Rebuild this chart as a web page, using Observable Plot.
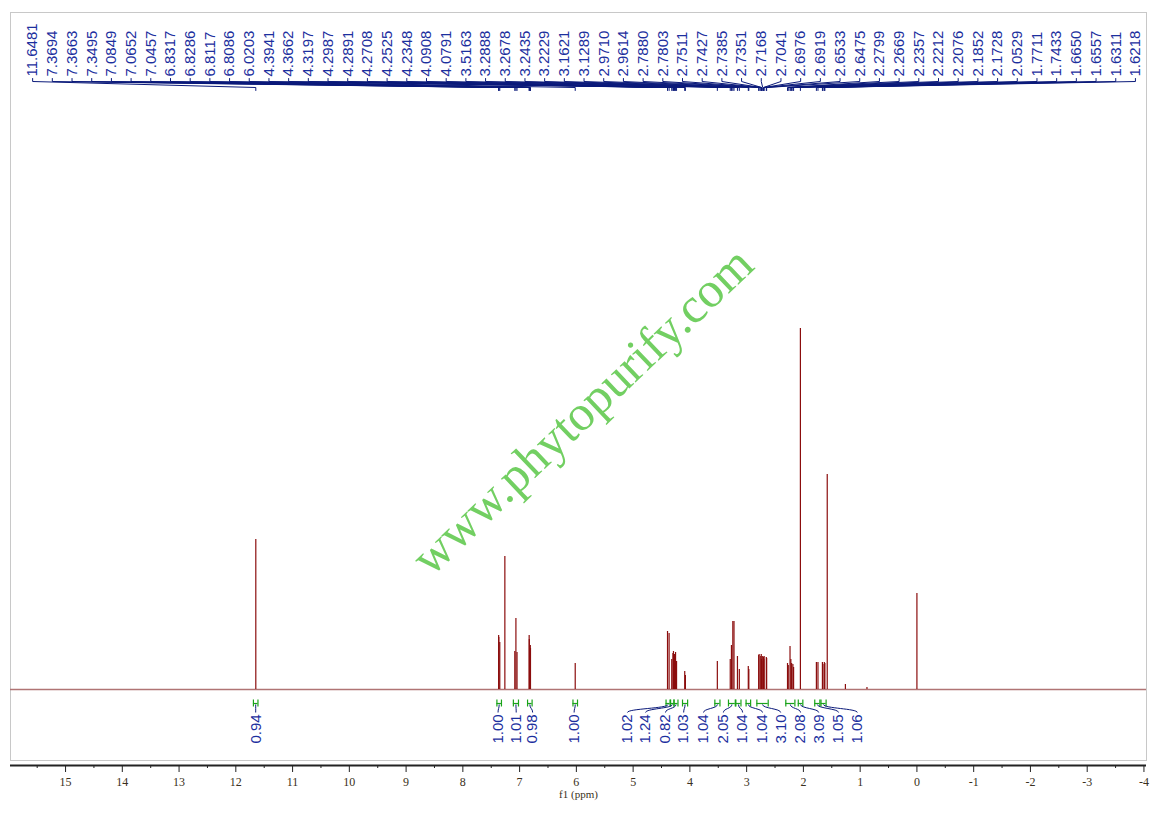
<!DOCTYPE html>
<html>
<head>
<meta charset="utf-8">
<script src="https://cdn.jsdelivr.net/npm/d3@7"></script>
<script src="https://cdn.jsdelivr.net/npm/@observablehq/plot@0.6"></script>
<style>
  body { margin: 0; background: #fff; }
</style>
</head>
<body>
<div id="chart"></div>
<script>
// picked peaks (ppm), as printed across the top
const shifts = [
  11.6481, 7.3694, 7.3663, 7.3495, 7.0849, 7.0652, 7.0457, 6.8317, 6.8286, 6.8117,
  6.8086, 6.0203, 4.3941, 4.3662, 4.3197, 4.2987, 4.2891, 4.2708, 4.2525, 4.2348,
  4.0908, 4.0791, 3.5163, 3.2888, 3.2678, 3.2435, 3.2229, 3.1621, 3.1289, 2.9710,
  2.9614, 2.7880, 2.7803, 2.7511, 2.7427, 2.7385, 2.7351, 2.7168, 2.7041, 2.6976,
  2.6919, 2.6533, 2.6475, 2.2799, 2.2669, 2.2357, 2.2212, 2.2076, 2.1852, 2.1728,
  2.0529, 1.7711, 1.7433, 1.6650, 1.6557, 1.6311, 1.6218
]
// peak heights (arbitrary units, baseline = 0)
const heights = [
  150, 54, 52, 47, 38, 71, 37, 54, 50, 44,
  41, 26, 58, 56, 30, 36, 38, 35, 37, 28,
  18, 14, 28, 30, 44, 68, 68, 33, 20, 23,
  20, 34, 35, 33, 35, 30, 28, 33, 32, 30,
  33, 32, 31, 26, 24, 43, 30, 26, 25, 22,
  361, 27, 27, 27, 25, 27, 26
]
// lines without a label: CHCl3, water, grease, TMS
const otherShifts = [7.26, 1.58, 1.26, 0.88, 0.00]
const otherHeights = [133, 215, 5, 2, 96]

// integrals
const integrals = [0.94, 1.00, 1.01, 0.98, 1.00, 1.02, 1.24, 0.82, 1.03, 1.04, 2.05, 1.04, 1.04, 3.10, 2.08, 3.09, 1.05, 1.06]
const integralFrom = [11.69, 7.40, 7.11, 6.86, 6.06, 4.42, 4.34, 4.28, 4.13, 3.56, 3.32, 3.19, 3.01, 2.82, 2.31, 2.09, 1.80, 1.69]
const integralTo = [11.61, 7.32, 7.02, 6.78, 5.98, 4.35, 4.28, 4.21, 4.04, 3.47, 3.20, 3.10, 2.93, 2.62, 2.15, 2.01, 1.71, 1.60]
// where each integral value is written (ppm)
const integralLabelAt = [11.65, 7.38, 7.06, 6.77, 6.04, 5.10, 4.78, 4.43, 4.11, 3.76, 3.41, 3.07, 2.72, 2.40, 2.05, 1.73, 1.38, 1.05]

const blue = "#1c2f9e"
const navy = "#0b1a7a"
const green = "#1aa31a"
const red = "#8b0d0d"

const peaks = shifts.map((s, i) => ({s, h: heights[i]}))
const others = otherShifts.map((s, i) => ({s, h: otherHeights[i]}))

// labels sit evenly spaced along the top, leaders run down to the peaks
const labLeft = 15.58, labRight = -3.85
const labelX = shifts.map((d, i) => labLeft - i * (labLeft - labRight) / (shifts.length - 1))
const leaders = shifts.flatMap((s, i) => [
  {i, x: labelX[i], y: 611},
  {i, x: labelX[i], y: 608},
  {i, x: s, y: 602},
  {i, x: s, y: 599}
])

const ints = integrals.map((v, i) => ({
  v, from: integralFrom[i], to: integralTo[i],
  mid: (integralFrom[i] + integralTo[i]) / 2, at: integralLabelAt[i]
}))

const yBottom = -76

let chart = Plot.plot({
  width: 1154,
  height: 814,
  marginLeft: 10,
  marginRight: 8,
  marginTop: 12,
  marginBottom: 49,
  x: { domain: [15.97, -4.045] },
  y: { domain: [yBottom, 677], axis: null },
  marks: [
    Plot.frame({stroke: "#c8c8c8", insetBottom: 5}),
    Plot.text(["www.phytopurify.com"], {
      frameAnchor: "middle", dx: 4, dy: 22, rotate: -43.6,
      fontSize: 50, fontFamily: "Liberation Serif", fill: "#72cf62"
    }),
    // spectrum
    Plot.ruleY([0], {stroke: "#b07474", strokeWidth: 1.3}),
    Plot.ruleX(others, {x: "s", y1: 0, y2: "h", stroke: red, strokeWidth: 1.2}),
    Plot.ruleX(peaks, {x: "s", y1: 0, y2: "h", stroke: red, strokeWidth: 1.2}),
    // peak labels
    Plot.line(leaders, {x: "x", y: "y", z: "i", stroke: navy, strokeWidth: 1}),
    Plot.text(peaks, {
      x: (d, i) => labelX[i], y: 613, text: d => d.s.toFixed(4),
      rotate: -90, textAnchor: "start", fontSize: 15,
      fontFamily: "Liberation Sans", fill: blue
    }),
    // integrals
    Plot.ruleY(ints, {y: -14, x1: "from", x2: "to", stroke: green, strokeWidth: 1.2}),
    Plot.ruleX(ints, {x: "from", y1: -10.5, y2: -17.5, stroke: green, strokeWidth: 1.2}),
    Plot.ruleX(ints, {x: "to", y1: -10.5, y2: -17.5, stroke: green, strokeWidth: 1.2}),
    Plot.link(ints, {x1: "mid", y1: -15, x2: "at", y2: -23, curve: "bump-y", stroke: navy, strokeWidth: 1}),
    Plot.text(ints, {
      x: "at", y: -54, text: d => d.v.toFixed(2),
      rotate: -90, textAnchor: "start", fontSize: 15,
      fontFamily: "Liberation Sans", fill: blue
    }),
    // axis
    Plot.ruleY([yBottom], {stroke: "#222", strokeWidth: 2}),
    Plot.axisX(d3.range(-3.5, 16, 1), {tickSize: 3, text: null, stroke: "#222"}),
    Plot.axisX(d3.range(-4, 16, 1), {
      tickSize: 7, tickPadding: 5, tickFormat: d => String(d), label: null,
      fontSize: 12, fontFamily: "Liberation Serif", stroke: "#222", fill: "#3a3020"
    }),
    Plot.text(["f1 (ppm)"], {
      frameAnchor: "bottom", dy: 32, fontSize: 11,
      fontFamily: "Liberation Serif", fill: "#3a3020"
    })
  ]
})

d3.select('#chart').append(() => chart)
</script>
</body>
</html>
